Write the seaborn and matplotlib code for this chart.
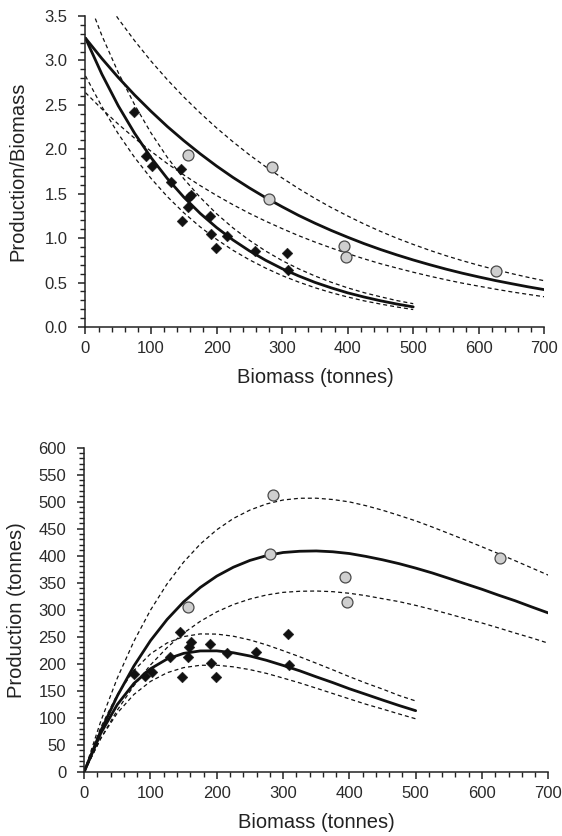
import matplotlib
matplotlib.use("Agg")
import matplotlib.pyplot as plt
from matplotlib.ticker import MultipleLocator, FormatStrFormatter
import seaborn as sns

# observed points, biomass (t) and P/B ratio
diamond_biomass = [74.5, 92, 102, 130, 145, 147, 157, 158, 161.5, 189.5, 191.5, 198.5, 215.5, 258.8, 307, 308.5]
diamond_pb = [2.42, 1.92, 1.815, 1.63, 1.78, 1.19, 1.35, 1.465, 1.49, 1.25, 1.05, 0.885, 1.02, 0.853, 0.833, 0.64]
circle_biomass = [157, 284.5, 280.5, 393.7, 397, 627]
circle_pb = [1.94, 1.80, 1.44, 0.915, 0.79, 0.63]

# fitted curves, P/B at each biomass step
grid_d = [0, 25, 50, 75, 100, 125, 150, 175, 200, 225, 250, 275, 300, 325, 350, 375, 400, 425, 450, 475, 500]
fit_d = [3.25, 2.845, 2.489, 2.179, 1.906, 1.669, 1.461, 1.278, 1.119, 0.979, 0.857, 0.750, 0.656, 0.575,
         0.502, 0.440, 0.384, 0.337, 0.295, 0.258, 0.226]
upper_d = [3.757, 3.280, 2.863, 2.500, 2.183, 1.907, 1.668, 1.458, 1.274, 1.115, 0.976, 0.854, 0.747, 0.655,
           0.574, 0.503, 0.440, 0.386, 0.340, 0.297, 0.262]
lower_d = [2.825, 2.480, 2.174, 1.907, 1.672, 1.466, 1.285, 1.126, 0.986, 0.863, 0.756, 0.662, 0.578, 0.506,
           0.442, 0.386, 0.337, 0.294, 0.258, 0.225, 0.196]

grid_c = [0, 25, 50, 75, 100, 125, 150, 175, 200, 225, 250, 275, 300, 325, 350, 375, 400, 425, 450, 475, 500,
          525, 550, 575, 600, 625, 650, 675, 700]
fit_c = [3.25, 3.021, 2.808, 2.610, 2.427, 2.255, 2.097, 1.949, 1.811, 1.683, 1.565, 1.455, 1.353, 1.256, 1.168,
         1.086, 1.010, 0.938, 0.872, 0.811, 0.754, 0.701, 0.651, 0.605, 0.563, 0.523, 0.487, 0.452, 0.420]
upper_c = [4.025, 3.737, 3.469, 3.221, 2.992, 2.782, 2.588, 2.408, 2.240, 2.084, 1.938, 1.803, 1.677, 1.558,
           1.447, 1.344, 1.249, 1.159, 1.076, 0.999, 0.929, 0.863, 0.802, 0.746, 0.694, 0.646, 0.601, 0.559, 0.520]
lower_c = [2.637, 2.453, 2.283, 2.124, 1.977, 1.838, 1.711, 1.591, 1.480, 1.376, 1.279, 1.190, 1.107, 1.028,
           0.956, 0.889, 0.826, 0.767, 0.712, 0.663, 0.616, 0.572, 0.531, 0.493, 0.459, 0.426, 0.395, 0.367, 0.340]

sns.set_theme(style="ticks")
plt.rcParams["font.family"] = ["Liberation Sans", "DejaVu Sans"]
plt.rcParams["axes.edgecolor"] = "#222222"
plt.rcParams["axes.linewidth"] = 1.1
plt.rcParams["xtick.color"] = "#222222"
plt.rcParams["ytick.color"] = "#222222"
plt.rcParams["xtick.labelcolor"] = "#2a2a2a"
plt.rcParams["ytick.labelcolor"] = "#2a2a2a"

fig = plt.figure(figsize=(5.62, 8.36), dpi=100)
ax1 = fig.add_axes([0.1521, 0.6089, 0.8164, 0.3720])
ax2 = fig.add_axes([0.1498, 0.0769, 0.8258, 0.3876])

dash = (0, (3.2, 2.4))


def draw(ax, scale):
    # scale=False -> P/B, scale=True -> production = biomass * P/B
    def yv(xs, ys):
        return [x * y for x, y in zip(xs, ys)] if scale else ys

    for grid, fit, up, lo in [(grid_d, fit_d, upper_d, lower_d), (grid_c, fit_c, upper_c, lower_c)]:
        sns.lineplot(x=grid, y=yv(grid, up), ax=ax, color="#111111", lw=0.9, ls=dash, estimator=None, sort=False)
        sns.lineplot(x=grid, y=yv(grid, lo), ax=ax, color="#111111", lw=0.9, ls=dash, estimator=None, sort=False)
        sns.lineplot(x=grid, y=yv(grid, fit), ax=ax, color="#111111", lw=2.0, estimator=None, sort=False)

    sns.scatterplot(x=diamond_biomass, y=yv(diamond_biomass, diamond_pb), ax=ax, marker="D", s=30,
                    color="#111111", edgecolor="#111111", linewidth=0.3, zorder=3, clip_on=False)
    sns.scatterplot(x=circle_biomass, y=yv(circle_biomass, circle_pb), ax=ax, marker="o", s=62,
                    color="#cfcfcf", edgecolor="#4a4a4a", linewidth=0.9, zorder=3, clip_on=False)

    sns.despine(ax=ax)
    ax.set_xlim(0, 700)
    ax.xaxis.set_major_locator(MultipleLocator(100))
    ax.xaxis.set_minor_locator(MultipleLocator(20))
    ax.tick_params(which="major", direction="out", length=5, width=1.1, labelsize=12, pad=5)
    ax.tick_params(which="minor", direction="out", length=3.5, width=1.0)
    ax.tick_params(axis="y", which="major", pad=8)
    ax.set_xlabel("Biomass (tonnes)", fontsize=14.5, color="#222222", labelpad=9)


draw(ax1, False)
ax1.set_ylim(0, 3.5)
ax1.yaxis.set_major_locator(MultipleLocator(0.5))
ax1.yaxis.set_minor_locator(MultipleLocator(0.1))
ax1.yaxis.set_major_formatter(FormatStrFormatter("%.1f"))
ax1.set_ylabel("Production/Biomass", fontsize=14.5, color="#222222", labelpad=12)

draw(ax2, True)
ax2.set_ylim(0, 600)
ax2.yaxis.set_major_locator(MultipleLocator(50))
ax2.yaxis.set_minor_locator(MultipleLocator(10))
ax2.set_ylabel("Production (tonnes)", fontsize=14.5, color="#222222", labelpad=9)

fig.savefig("out.png", dpi=100)
